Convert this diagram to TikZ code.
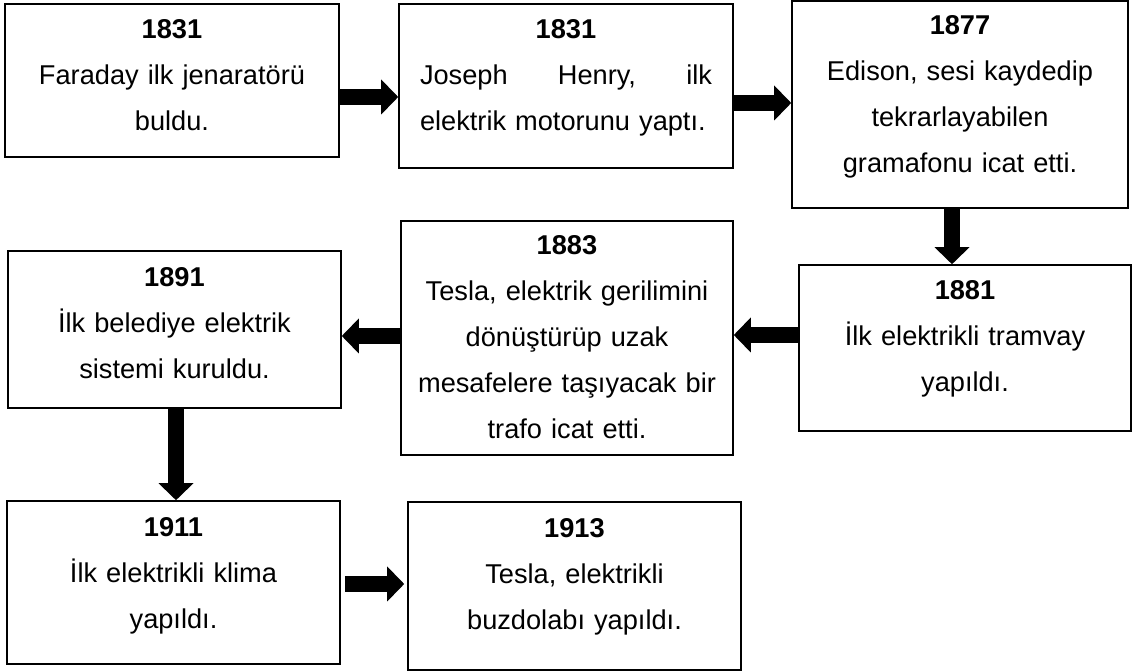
\documentclass[tikz,border=0pt]{standalone}
\usepackage{fontspec}
\setmainfont{Liberation Sans}
\usetikzlibrary{arrows.meta,calc}
\tikzset{
  box/.style={draw=black, line width=0.8pt, rectangle, inner sep=0pt},
  txt/.style={anchor=base, align=center, text width=162pt, inner sep=0pt,
    font={\fontsize{13.6}{23}\selectfont}},
  blk/.style={line width=7.8pt, -{Triangle[width=17.5pt,length=8.5pt,line width=0pt]}},
}
\begin{document}
\begin{tikzpicture}[x=0.5pt,y=-0.5pt]
\useasboundingbox (0,0) rectangle (1136,672);
% boxes
\node[box, minimum width=167pt, minimum height=76.5pt] (b1) at (172,80.5) {};
\node[box, minimum width=167pt, minimum height=82pt] (b2) at (566,86) {};
\node[box, minimum width=168pt, minimum height=103.5pt] (b3) at (960,104.5) {};
\node[box, minimum width=166pt, minimum height=83pt] (b4) at (965,348) {};
\node[box, minimum width=166pt, minimum height=117pt] (b5) at (567,338) {};
\node[box, minimum width=166.5pt, minimum height=78.5pt] (b6) at (174.5,329.5) {};
\node[box, minimum width=166.5pt, minimum height=81.5pt] (b7) at (173.5,582.5) {};
\node[box, minimum width=166.5pt, minimum height=84pt] (b8) at (574.5,586) {};
% texts
\node[txt] (t1) at ([yshift=-17.5pt]b1.north) {\textbf{1831}\\Faraday ilk jenaratörü\\buldu.};
\node[txt] (t2) at ([yshift=-17.5pt]b2.north) {\textbf{1831}\\\makebox[146pt]{Joseph\hfill Henry,\hfill ilk}\\\makebox[146pt][l]{elektrik motorunu yaptı.}};
\node[txt] (t3) at ([yshift=-17pt]b3.north) {\textbf{1877}\\Edison, sesi kaydedip\\tekrarlayabilen\\gramafonu icat etti.};
\node[txt] (t4) at ([yshift=-17.5pt]b4.north) {\textbf{1881}\\İlk elektrikli tramvay\\yapıldı.};
\node[txt] (t5) at ([yshift=-17pt]b5.north) {\textbf{1883}\\Tesla, elektrik gerilimini\\dönüştürüp uzak\\mesafelere taşıyacak bir\\trafo icat etti.};
\node[txt] (t6) at ([yshift=-18pt]b6.north) {\textbf{1891}\\İlk belediye elektrik\\sistemi kuruldu.};
\node[txt] (t7) at ([yshift=-18pt]b7.north) {\textbf{1911}\\İlk elektrikli klima\\yapıldı.};
\node[txt] (t8) at ([yshift=-18pt]b8.north) {\textbf{1913}\\Tesla, elektrikli\\buzdolabı yapıldı.};
% arrows
\draw[blk] ([yshift=-8.25pt]b1.east) coordinate (a1) -- (a1 -| b2.west);
\draw[blk] ([yshift=-8.5pt]b2.east) coordinate (a2) -- (a2 -| b3.west);
\draw[blk] ([xshift=-4pt]b3.south) coordinate (a3) -- (a3 |- b4.north);
\draw[blk] ([yshift=6.5pt]b4.west) coordinate (a4) -- (a4 -| b5.east);
\draw[blk] ([yshift=1pt]b5.west) coordinate (a5) -- (a5 -| b6.east);
\draw[blk] ([xshift=0.75pt]b6.south) coordinate (a6) -- (a6 |- b7.north);
\draw[blk, shorten <=2pt, shorten >=1.5pt] ([yshift=-0.75pt]b7.east) coordinate (a7) -- (a7 -| b8.west);
\end{tikzpicture}
\end{document}
